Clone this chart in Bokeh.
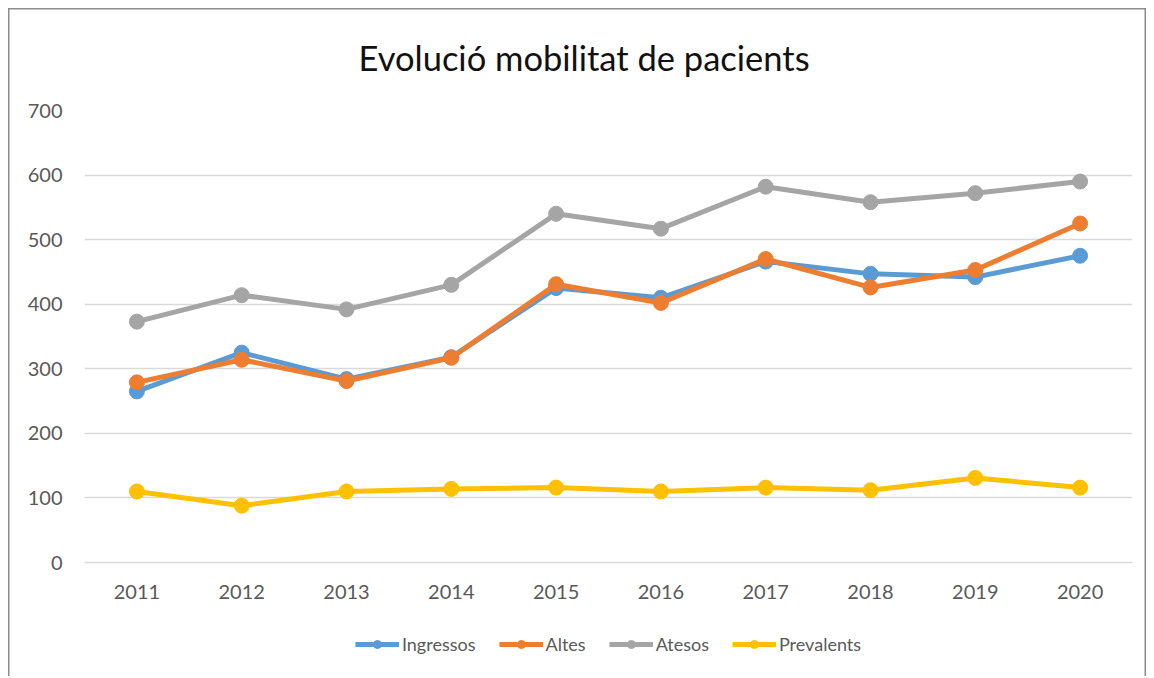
from bokeh.plotting import figure
from bokeh.layouts import column
from bokeh.models import Legend, LegendItem, Range1d, FactorRange, SingleIntervalTicker
from bokeh.embed import file_html
from bokeh.resources import INLINE

years = ["2011", "2012", "2013", "2014", "2015", "2016", "2017", "2018", "2019", "2020"]
ingressos = [265, 325, 284, 318, 425, 410, 466, 447, 442, 475]
altes = [279, 314, 281, 317, 431, 402, 470, 426, 453, 525]
atesos = [373, 414, 392, 430, 540, 517, 582, 558, 572, 590]
prevalents = [110, 88, 110, 114, 116, 110, 116, 112, 131, 116]

series = [
    ("Ingressos", ingressos, "#5B9BD5"),
    ("Altes", altes, "#ED7D31"),
    ("Atesos", atesos, "#A5A5A5"),
    ("Prevalents", prevalents, "#FFC000"),
]

FONT = "Lato"

p = figure(width=1154, height=612, x_range=FactorRange(*years), y_range=Range1d(0, 700),
           output_backend="svg", toolbar_location=None,
           min_border_left=84, min_border_right=22, min_border_top=110, min_border_bottom=50)
p.border_fill_color = None

p.title.text = "Evolució mobilitat de pacients"
p.title.align = "left"
p.title.offset = 274
p.title.text_font = FONT
p.title.text_font_size = "34.5px"
p.title.text_font_style = "normal"
p.title.text_color = "#111111"
p.title.standoff = 66

p.outline_line_color = None
p.xgrid.grid_line_color = None
p.ygrid.grid_line_color = "#d9d9d9"
p.ygrid.grid_line_width = 1.5
p.yaxis.ticker = SingleIntervalTicker(interval=100)

for ax in (p.xaxis, p.yaxis):
    ax.axis_line_color = None
    ax.major_tick_line_color = None
    ax.minor_tick_line_color = None
    ax.major_label_text_font = FONT
    ax.major_label_text_font_size = "20px"
    ax.major_label_text_color = "#595959"
p.yaxis.major_label_standoff = 16
p.xaxis.major_label_standoff = 16
p.xaxis.axis_line_color = "#d9d9d9"
p.xaxis.axis_line_width = 1.5

for name, vals, col in series:
    p.line(years, vals, line_color=col, line_width=5)
    p.scatter(years, vals, size=15, fill_color=col, line_color=col)

# legend strip below the chart (series drawn outside its visible range, only the legend shows)
p2 = figure(width=1154, height=64, x_range=FactorRange(*years), y_range=Range1d(-2000, -1900),
            output_backend="svg", toolbar_location=None,
            min_border_left=18, min_border_right=0, min_border_top=0, min_border_bottom=0)
p2.axis.visible = False
p2.grid.visible = False
p2.outline_line_color = None
p2.border_fill_color = None
p2.background_fill_color = None

items = []
for name, vals, col in series:
    l = p2.line(years, vals, line_color=col, line_width=5)
    s = p2.scatter(years, vals, size=13, fill_color=col, line_color=col)
    items.append(LegendItem(label=name, renderers=[l, s]))

legend = Legend(items=items, orientation="horizontal", location="center",
                label_text_font=FONT, label_text_font_size="18px", label_text_color="#595959",
                glyph_width=44, glyph_height=20, spacing=23, label_standoff=3,
                border_line_color=None, background_fill_alpha=0, margin=0, padding=0)
p2.add_layout(legend)

layout = column(p, p2, spacing=0)
layout.styles = {"box-shadow": "inset 8px 8px 0 0 #ffffff, inset -8px 0 0 0 #ffffff, "
                               "inset 9.5px 9.5px 0 0 #8c8c8c, inset -9.5px 0 0 0 #8c8c8c"}

open("out.html", "w").write(file_html(layout, INLINE))
